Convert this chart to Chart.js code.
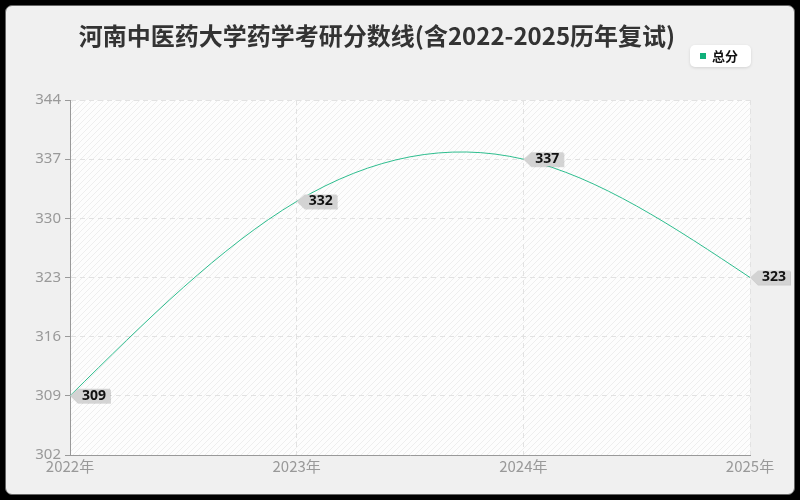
<!DOCTYPE html>
<html>
<head>
<meta charset="utf-8">
<script src="https://cdn.jsdelivr.net/npm/chart.js@4"></script>
<style>
html,body{margin:0;padding:0;background:#000;width:800px;height:500px;overflow:hidden;}
#panel{position:absolute;left:5px;top:5px;width:788px;height:488px;background:#f0f0f0;border:1px solid #666;border-radius:7px;}
#wrap{position:absolute;left:0;top:0;width:800px;height:500px;}
</style>
</head>
<body>
<div id="panel"></div>
<div id="wrap"><canvas id="c" width="800" height="500"></canvas></div>
<script>
const titleText = '河南中医药大学药学考研分数线(含2022-2025历年复试)';
const seriesName = '总分';
const categories = ['2022年', '2023年', '2024年', '2025年'];
const scores = [309, 332, 337, 323];
const yTicks = [302, 309, 316, 323, 330, 337, 344];
const lineColor = '#2ebd8e';
const legendColor = '#10b07a';

function makePattern() {
  const p = document.createElement('canvas');
  p.width = 6; p.height = 6;
  const g = p.getContext('2d');
  g.fillStyle = '#fdfdfd';
  g.fillRect(0, 0, 6, 6);
  g.strokeStyle = '#eeeeee';
  g.lineWidth = 1;
  g.beginPath();
  g.moveTo(0, 6); g.lineTo(6, 0);
  g.moveTo(-3, 3); g.lineTo(3, -3);
  g.moveTo(3, 9); g.lineTo(9, 3);
  g.stroke();
  return p;
}

const bgPlugin = {
  id: 'bg',
  beforeDraw(chart) {
    const {ctx, chartArea: a} = chart;
    ctx.save();
    ctx.fillStyle = ctx.createPattern(makePattern(), 'repeat');
    ctx.fillRect(a.left, a.top, a.right - a.left, a.bottom - a.top);
    ctx.restore();
  }
};

// natural cubic spline through the library-computed points, expressed as bezier control points
const splinePlugin = {
  id: 'naturalSpline',
  beforeDatasetDraw(chart, args) {
    const meta = args.meta;
    const line = meta.dataset;
    if (!line) return;
    line.updateControlPoints(chart.chartArea, 'x');
    const pts = meta.data;
    const n = pts.length;
    if (n < 3) return;
    const x = pts.map(p => p.x), y = pts.map(p => p.y);
    const h = [];
    for (let i = 0; i < n - 1; i++) h.push(x[i + 1] - x[i]);
    // tridiagonal system for interior second derivatives
    const m = n - 2;
    const A = [], B = [], C = [], D = [];
    for (let k = 0; k < m; k++) {
      const i = k + 1;
      A.push(h[i - 1]);
      B.push(2 * (h[i - 1] + h[i]));
      C.push(h[i]);
      D.push(6 * ((y[i + 1] - y[i]) / h[i] - (y[i] - y[i - 1]) / h[i - 1]));
    }
    for (let k = 1; k < m; k++) {
      const w = A[k] / B[k - 1];
      B[k] -= w * C[k - 1];
      D[k] -= w * D[k - 1];
    }
    const Mi = new Array(m);
    for (let k = m - 1; k >= 0; k--) {
      Mi[k] = (D[k] - (k < m - 1 ? C[k] * Mi[k + 1] : 0)) / B[k];
    }
    const M = [0, ...Mi, 0];
    const d = new Array(n);
    for (let i = 0; i < n - 1; i++) {
      d[i] = (y[i + 1] - y[i]) / h[i] - h[i] * (2 * M[i] + M[i + 1]) / 6;
    }
    d[n - 1] = (y[n - 1] - y[n - 2]) / h[n - 2] + h[n - 2] * (M[n - 2] + 2 * M[n - 1]) / 6;
    for (let i = 0; i < n; i++) {
      const p = pts[i];
      if (i < n - 1) { p.cp2x = x[i] + h[i] / 3; p.cp2y = y[i] + d[i] * h[i] / 3; }
      else { p.cp2x = x[i]; p.cp2y = y[i]; }
      if (i > 0) { p.cp1x = x[i] - h[i - 1] / 3; p.cp1y = y[i] - d[i] * h[i - 1] / 3; }
      else { p.cp1x = x[i]; p.cp1y = y[i]; }
    }
  }
};

const decoPlugin = {
  id: 'deco',
  afterDraw(chart) {
    const ctx = chart.ctx;
    ctx.save();
    // title
    ctx.font = 'bold 24px "Noto Sans CJK SC", "Noto Sans", sans-serif';
    ctx.fillStyle = '#333';
    ctx.textAlign = 'center';
    ctx.textBaseline = 'middle';
    ctx.fillText(titleText, 377, 36);
    // legend
    const lx = 690, ly = 45, lw = 61, lh = 22;
    ctx.shadowColor = 'rgba(0,0,0,0.12)';
    ctx.shadowBlur = 3;
    ctx.shadowOffsetY = 1;
    ctx.fillStyle = '#ffffff';
    ctx.beginPath();
    ctx.roundRect(lx, ly, lw, lh, 5);
    ctx.fill();
    ctx.shadowColor = 'transparent';
    ctx.fillStyle = legendColor;
    ctx.fillRect(700, 53, 6, 6);
    ctx.fillStyle = '#111';
    ctx.font = 'bold 13px "Noto Sans CJK SC", sans-serif';
    ctx.textAlign = 'left';
    ctx.fillText(seriesName, 712, 56);
    // point labels
    const meta = chart.getDatasetMeta(0);
    ctx.font = 'bold 14px "Noto Sans", sans-serif';
    meta.data.forEach((pt, i) => {
      const x = pt.x, y = pt.y;
      const txt = String(scores[i]);
      const tw = ctx.measureText(txt).width;
      const bx = x + 8, by = y - 7, bw = tw + 8, bh = 14;
      ctx.fillStyle = 'rgba(0,0,0,0.15)';
      ctx.beginPath();
      ctx.moveTo(x + 1, y + 1); ctx.lineTo(bx, by + 1); ctx.lineTo(bx + bw + 1, by + 1);
      ctx.lineTo(bx + bw + 1, by + bh + 1); ctx.lineTo(bx, by + bh + 1); ctx.closePath();
      ctx.fill();
      ctx.fillStyle = '#d3d3d3';
      ctx.beginPath();
      ctx.moveTo(x, y); ctx.lineTo(bx, by); ctx.lineTo(bx + bw, by);
      ctx.lineTo(bx + bw, by + bh); ctx.lineTo(bx, by + bh); ctx.closePath();
      ctx.fill();
      ctx.fillStyle = '#111';
      ctx.textAlign = 'left';
      ctx.textBaseline = 'middle';
      ctx.fillText(txt, bx + 4, y);
    });
    ctx.restore();
  }
};

new Chart(document.getElementById('c'), {
  type: 'line',
  data: {
    labels: categories,
    datasets: [{
      label: seriesName,
      data: scores,
      borderColor: lineColor,
      borderWidth: 1,
      pointRadius: 0,
      tension: 0.4,
      fill: false
    }]
  },
  options: {
    responsive: false,
    animation: false,
    devicePixelRatio: 1,
    layout: {padding: {left: 0, right: 50, top: 100, bottom: 0}},
    plugins: {legend: {display: false}, title: {display: false}, tooltip: {enabled: false}},
    scales: {
      x: {
        type: 'category',
        offset: false,
        afterFit(s) { s.height = 45; },
        grid: {color: '#e2e2e2', drawTicks: false, lineWidth: 1},
        border: {display: true, color: '#999', width: 1, dash: [5, 4]},
        ticks: {color: '#999', font: {size: 15, family: '"Noto Sans CJK SC", "Noto Sans", sans-serif'}, padding: 2, maxRotation: 0}
      },
      y: {
        min: 302, max: 344,
        afterFit(s) { s.width = 70; },
        afterBuildTicks(s) { s.ticks = yTicks.map(v => ({value: v})); },
        grid: {color: '#e2e2e2', tickLength: 5, tickColor: '#999', lineWidth: 1},
        border: {display: true, color: '#999', width: 1, dash: [5, 4]},
        ticks: {color: '#999', font: {size: 15, family: '"Noto Sans", sans-serif'}, padding: 4}
      }
    }
  },
  plugins: [bgPlugin, splinePlugin, decoPlugin]
});
</script>
</body>
</html>
